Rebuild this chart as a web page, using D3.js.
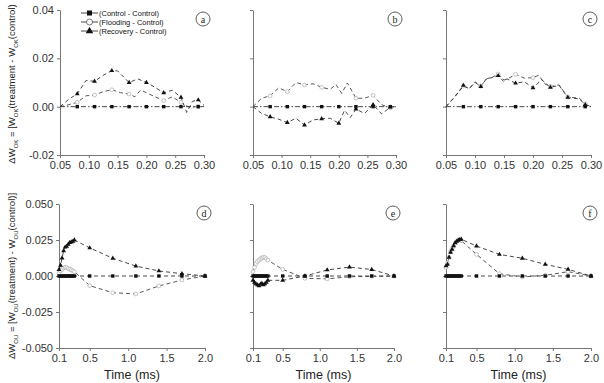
<!DOCTYPE html>
<html>
<head>
<meta charset="utf-8">
<script src="https://cdn.jsdelivr.net/npm/d3@7"></script>
<style>
    body { margin: 0; background: #fff; }
    svg text { font-family: Arial, "Liberation Sans", sans-serif; }
    .axis path, .axis line { stroke: #777; }
    .axis text { fill: #333; font-size: 11px; font-family: Arial, "Liberation Sans", sans-serif; }
</style>
</head>
<body>
<div id="chart"></div>
<script>
// ---- data ----
const seriesNames = ["(Control - Control)", "(Flooding - Control)", "(Recovery - Control)"];
const panelLetters = ["a", "b", "c", "d", "e", "f"];

const topXTicks = [0.05, 0.10, 0.15, 0.20, 0.25, 0.30];
const topYTicks = [-0.02, 0.00, 0.02, 0.04];
const botXTicks = [0.1, 0.5, 1.0, 1.5, 2.0];
const botYTicks = [-0.050, -0.025, 0.000, 0.025, 0.050];

// top row: markers only every 0.03 ms
const topMarkT = [0.08, 0.11, 0.14, 0.17, 0.20, 0.23, 0.26, 0.29];
const topCtrlT = [0.05, 0.08, 0.11, 0.14, 0.17, 0.20, 0.23, 0.26, 0.29, 0.30];
const topCtrlV = [0, 0, 0, 0, 0, 0, 0, 0, 0, 0];

// panel a
const aFloT = [0.05, 0.065, 0.08, 0.095, 0.11, 0.125, 0.14, 0.155, 0.17, 0.18, 0.19, 0.205, 0.23, 0.245, 0.26, 0.275, 0.29, 0.30];
const aFloV = [0, 0.0008, 0.0018, 0.0045, 0.0048, 0.0062, 0.0070, 0.0058, 0.0052, 0.0041, 0.0069, 0.0052, 0.0025, 0.0041, 0.0018, -0.0003, 0.0001, 0];
const aRecT = [0.05, 0.065, 0.08, 0.095, 0.11, 0.125, 0.14, 0.15, 0.17, 0.185, 0.20, 0.215, 0.23, 0.245, 0.26, 0.27, 0.28, 0.29, 0.30];
const aRecV = [0, 0.0030, 0.0053, 0.0108, 0.0105, 0.0130, 0.0149, 0.0148, 0.0100, 0.0115, 0.0100, 0.0080, 0.0057, 0.0068, 0.0039, -0.0024, 0.0022, 0.0028, 0.0005];

// panel b
const bFloT = [0.05, 0.065, 0.08, 0.095, 0.11, 0.125, 0.14, 0.155, 0.17, 0.185, 0.195, 0.205, 0.215, 0.23, 0.245, 0.26, 0.275, 0.29, 0.30];
const bFloV = [0, 0.0035, 0.0045, 0.0078, 0.0062, 0.0100, 0.0090, 0.0095, 0.0080, 0.0072, 0.0092, 0.0055, 0.0098, 0.0035, 0.0035, 0.0047, 0.0008, -0.0005, 0];
const bRecT = [0.05, 0.065, 0.08, 0.095, 0.11, 0.125, 0.14, 0.155, 0.17, 0.185, 0.20, 0.21, 0.22, 0.23, 0.245, 0.26, 0.275, 0.29, 0.30];
const bRecV = [0, -0.0028, -0.0042, -0.0052, -0.0066, -0.0048, -0.0076, -0.0055, -0.0050, -0.0048, -0.0069, -0.0015, -0.0045, -0.0010, -0.0028, 0.0008, -0.0030, -0.0002, 0];

// panel c
const cFloT = [0.05, 0.065, 0.08, 0.09, 0.10, 0.11, 0.12, 0.13, 0.14, 0.15, 0.16, 0.17, 0.185, 0.20, 0.21, 0.22, 0.23, 0.245, 0.26, 0.28, 0.29, 0.30];
const cFloV = [0, 0.0040, 0.0085, 0.0075, 0.0100, 0.0085, 0.0115, 0.0122, 0.0135, 0.0110, 0.0120, 0.0134, 0.0118, 0.0120, 0.0130, 0.0095, 0.0083, 0.0090, 0.0040, 0.0035, 0.0012, 0];
const cRecT = [0.05, 0.065, 0.08, 0.09, 0.10, 0.11, 0.12, 0.13, 0.14, 0.15, 0.155, 0.17, 0.185, 0.20, 0.215, 0.23, 0.245, 0.26, 0.28, 0.29, 0.30];
const cRecV = [0, 0.0041, 0.0088, 0.0074, 0.0103, 0.0083, 0.0117, 0.0120, 0.0128, 0.0103, 0.0115, 0.0097, 0.0103, 0.0078, 0.0112, 0.0080, 0.0088, 0.0038, 0.0032, 0.0008, 0.0002];

// bottom row: shared time points, every point marked
const botT = [0.10, 0.12, 0.14, 0.16, 0.18, 0.20, 0.22, 0.24, 0.26, 0.28, 0.30, 0.5, 0.8, 1.1, 1.4, 1.7, 2.0];
const botCtrlV = [0, 0, 0, 0, 0, 0, 0, 0, 0, 0, 0, 0, 0, 0, 0, 0, 0];

const dFloV = [0.0020, 0.0035, 0.0045, 0.0055, 0.0060, 0.0058, 0.0052, 0.0048, 0.0042, 0.0036, 0.0030, -0.0067, -0.0116, -0.0125, -0.0069, -0.0028, 0];
const dRecV = [0.0045, 0.0074, 0.0125, 0.0175, 0.0200, 0.0205, 0.0220, 0.0232, 0.0236, 0.0240, 0.0250, 0.0195, 0.0123, 0.0069, 0.0035, 0.0016, 0];

const eFloV = [0.0030, 0.0060, 0.0085, 0.0100, 0.0110, 0.0120, 0.0125, 0.0130, 0.0128, 0.0120, 0.0110, 0.0046, -0.0016, -0.0020, -0.0005, -0.0003, 0];
const eRecV = [-0.0030, -0.0045, -0.0055, -0.0062, -0.0068, -0.0058, -0.0052, -0.0062, -0.0055, -0.0045, -0.0030, -0.0030, 0.0000, 0.0042, 0.0062, 0.0045, 0];

const fFloV = [0.0060, 0.0090, 0.0130, 0.0170, 0.0190, 0.0210, 0.0225, 0.0240, 0.0250, 0.0250, 0.0245, 0.0150, 0.0016, -0.0007, 0.0005, 0.0030, 0];
const fRecV = [0.0070, 0.0081, 0.0130, 0.0165, 0.0185, 0.0210, 0.0230, 0.0240, 0.0248, 0.0252, 0.0255, 0.0208, 0.0150, 0.0123, 0.0081, 0.0046, 0];

(function () {
    const svg = d3.select("#chart").append("svg")
        .attr("width", 604)
        .attr("height", 383);

    const zip = (ts, vs) => ts.map((t, i) => ({ t: t, v: vs[i] }));

    // panel frames (px)
    const topY = [10, 155], botY = [204, 348];
    const colsTop = [[60, 204], [253, 396], [446, 591]];
    const colsBot = [[59, 205], [253, 394], [446, 591]];

    const panels = [
        { row: 0, col: 0, ctrl: zip(topCtrlT, topCtrlV), flo: zip(aFloT, aFloV), rec: zip(aRecT, aRecV) },
        { row: 0, col: 1, ctrl: zip(topCtrlT, topCtrlV), flo: zip(bFloT, bFloV), rec: zip(bRecT, bRecV) },
        { row: 0, col: 2, ctrl: zip(topCtrlT, topCtrlV), flo: zip(cFloT, cFloV), rec: zip(cRecT, cRecV) },
        { row: 1, col: 0, ctrl: zip(botT, botCtrlV), flo: zip(botT, dFloV), rec: zip(botT, dRecV) },
        { row: 1, col: 1, ctrl: zip(botT, botCtrlV), flo: zip(botT, eFloV), rec: zip(botT, eRecV) },
        { row: 1, col: 2, ctrl: zip(botT, botCtrlV), flo: zip(botT, fFloV), rec: zip(botT, fRecV) }
    ];

    const isMarked = (row, t) => row === 1 || topMarkT.some(m => Math.abs(m - t) < 1e-6);

    panels.forEach((p, i) => {
        const top = p.row === 0;
        const xr = top ? colsTop[p.col] : colsBot[p.col];
        const yr = top ? topY : botY;

        const x = d3.scaleLinear()
            .domain(top ? [0.05, 0.30] : [0.1, 2.0])
            .range(xr);
        const y = d3.scaleLinear()
            .domain(top ? [-0.02, 0.04] : [-0.05, 0.05])
            .range([yr[1], yr[0]]);

        const g = svg.append("g");

        // axes
        g.append("g")
            .attr("class", "axis")
            .attr("transform", `translate(0,${yr[1]})`)
            .call(d3.axisBottom(x)
                .tickValues(top ? topXTicks : botXTicks)
                .tickSize(3).tickSizeOuter(0)
                .tickFormat(d => d.toFixed(top ? 2 : 1)))
            .call(a => a.selectAll("text").attr("dy", "0.75em"));

        g.append("g")
            .attr("class", "axis")
            .attr("transform", `translate(${xr[0]},0)`)
            .call(d3.axisLeft(y)
                .tickValues(top ? topYTicks : botYTicks)
                .tickSize(3).tickSizeOuter(0)
                .tickFormat(d => p.col === 0 ? d.toFixed(top ? 2 : 3) : ""));

        const line = d3.line().x(d => x(d.t)).y(d => y(d.v));

        // lines
        g.append("path").datum(p.ctrl)
            .attr("d", line).attr("fill", "none")
            .attr("stroke", "#333").attr("stroke-width", 0.9)
            .attr("stroke-dasharray", top ? "5,2,1.5,2" : "4,3");
        g.append("path").datum(p.flo)
            .attr("d", line).attr("fill", "none")
            .attr("stroke", "#444").attr("stroke-width", 0.9)
            .attr("stroke-dasharray", "4,3");
        g.append("path").datum(p.rec)
            .attr("d", line).attr("fill", "none")
            .attr("stroke", "#333").attr("stroke-width", 0.9)
            .attr("stroke-dasharray", "4,3");

        // markers
        g.selectAll(".m-flo").data(p.flo.filter(d => isMarked(p.row, d.t)))
            .enter().append("circle")
            .attr("cx", d => x(d.t)).attr("cy", d => y(d.v)).attr("r", 1.9)
            .attr("fill", "#fff").attr("stroke", "#aaa").attr("stroke-width", 0.7);
        g.selectAll(".m-rec").data(p.rec.filter(d => isMarked(p.row, d.t)))
            .enter().append("path")
            .attr("d", d3.symbol(d3.symbolTriangle, 10))
            .attr("transform", d => `translate(${x(d.t)},${y(d.v)})`)
            .attr("fill", "#111");
        g.selectAll(".m-ctrl").data(p.ctrl.filter(d => isMarked(p.row, d.t)))
            .enter().append("rect")
            .attr("x", d => x(d.t) - 1.7).attr("y", d => y(d.v) - 1.7)
            .attr("width", 3.4).attr("height", 3.4)
            .attr("fill", "#111");

        // circled panel letter
        const lx = xr[1] - 1, ly = yr[0] + 9;
        g.append("circle").attr("cx", lx).attr("cy", ly).attr("r", 7)
            .attr("fill", "none").attr("stroke", "#333").attr("stroke-width", 0.8);
        g.append("text").attr("x", lx).attr("y", ly + 3.5)
            .attr("text-anchor", "middle")
            .style("font-family", "'Liberation Serif', 'Times New Roman', serif")
            .style("font-size", "10px").attr("fill", "#222")
            .text(panelLetters[i]);

        if (!top) {
            g.append("text")
                .attr("x", (xr[0] + xr[1]) / 2).attr("y", 379)
                .attr("text-anchor", "middle")
                .style("font-size", "12.5px").attr("fill", "#222")
                .text("Time (ms)");
        }
    });

    // legend in panel a
    const legend = svg.append("g").attr("transform", "translate(81,13)");
    seriesNames.forEach((name, i) => {
        const row = legend.append("g").attr("transform", `translate(0,${i * 9})`);
        row.append("line").attr("x1", 0).attr("x2", 17)
            .attr("stroke", "#333").attr("stroke-width", 0.9);
        if (i === 0) {
            row.append("rect").attr("x", 6).attr("y", -2.5).attr("width", 5).attr("height", 5).attr("fill", "#111");
        } else if (i === 1) {
            row.append("circle").attr("cx", 8.5).attr("r", 3)
                .attr("fill", "#fff").attr("stroke", "#555").attr("stroke-width", 0.8);
        } else {
            row.append("path").attr("d", d3.symbol(d3.symbolTriangle, 24))
                .attr("transform", "translate(8.5,0)").attr("fill", "#111");
        }
        row.append("text").attr("x", 18).attr("y", 2.7)
            .style("font-size", "7.5px").attr("fill", "#111")
            .text(name);
    });

    // rotated y labels with subscripts
    function yLabel(cy, sub, closing) {
        const t = svg.append("text")
            .attr("transform", `translate(15,${cy}) rotate(-90)`)
            .attr("text-anchor", "middle")
            .style("font-size", "9.5px").attr("fill", "#222");
        const parts = [
            ["\u0394W", false], [sub, true], [" = [W", false], [sub, true],
            [closing[0], false], [sub, true], [closing[1], false]
        ];
        parts.forEach(([s, isSub]) => {
            const ts = t.append("tspan").text(s);
            if (isSub) ts.attr("baseline-shift", "sub").style("font-size", "6px");
        });
    }
    yLabel(84, "OK", ["(treatment - W", "(control)"]);
    yLabel(276, "OU", ["(treatment) - W", "(control)]"]);
})();
</script>
</body>
</html>
